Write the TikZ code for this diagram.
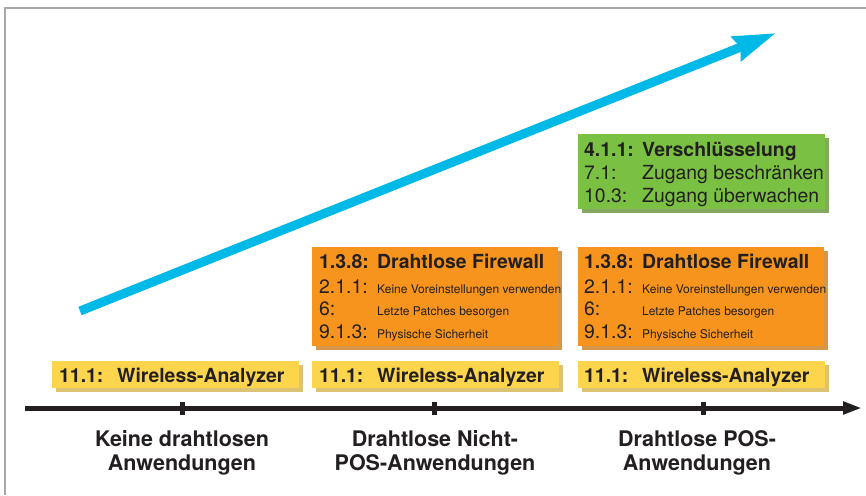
\documentclass[tikz,border=0pt]{standalone}
\usepackage{fontspec}
\setmainfont{TeX Gyre Heros}
\usetikzlibrary{arrows.meta,shadows}

\definecolor{ink}{HTML}{231F20}
\definecolor{frame}{HTML}{A8A8A8}
\definecolor{ylw}{HTML}{FDD54C}
\definecolor{ylwsh}{HTML}{DCC273}
\definecolor{org}{HTML}{F7941E}
\definecolor{orgsh}{HTML}{D6974A}
\definecolor{grn}{HTML}{7AC143}
\definecolor{grnsh}{HTML}{84A860}
\definecolor{sky}{HTML}{00B9E6}

\tikzset{
  x=1pt, y=1pt,
  box/.style={anchor=north west, inner sep=0, draw=none},
  ybox/.style={box, fill=ylw, minimum width=247, minimum height=27,
    general shadow={fill=ylwsh, shadow xshift=4pt, shadow yshift=-4pt}},
  obox/.style={box, fill=org, minimum width=246, minimum height=99,
    general shadow={fill=orgsh, shadow xshift=4pt, shadow yshift=-4pt}},
  gbox/.style={box, fill=grn, minimum width=247, minimum height=75,
    general shadow={fill=grnsh, shadow xshift=4pt, shadow yshift=-4pt}},
  lbl/.style={anchor=base west, inner sep=0, text=ink, font=\fontsize{19.4}{22}\selectfont},
  lblb/.style={lbl, font=\fontsize{19.4}{22}\selectfont\bfseries},
  lbls/.style={lbl, font=\fontsize{12}{14}\selectfont},
  phase/.style={align=center, inner sep=0, text=ink,
    font=\fontsize{21.5}{24}\selectfont\bfseries},
  tick/.style={line width=5pt, ink},
}

\begin{document}
\begin{tikzpicture}
\useasboundingbox (0,0) rectangle (866,-495);
\fill[white] (0,0) rectangle (866,-495);

% frame lines along the top and left edge
\draw[frame, line width=2pt] (5,-495) -- (5,-8) -- (866,-8);

% rising blue trend arrow
\coordinate (trendS) at (80,-311);
\coordinate (trendE) at (776,-33);
\draw[sky, line width=9pt, -{Stealth[length=42pt,width=25pt,inset=4pt]}] (trendS) -- (trendE);

% time axis with its three marks
\coordinate (axS) at (25,-408);
\coordinate (axE) at (862,-408);
\draw[ink, line width=5pt, -{Triangle[length=19pt,width=12pt]}] (axS) -- (axE);
\coordinate (t1) at (182,-408);
\coordinate (t2) at (434,-408);
\coordinate (t3) at (703,-408);
\foreach \t in {t1,t2,t3}
  \draw[tick] ([yshift=6.5pt]\t) -- ([yshift=-6.5pt]\t);

% phase captions below the axis (anchored at the baseline of the last line)
\node[phase, anchor=base] (p1) at (182,-470) {Keine drahtlosen\\Anwendungen};
\node[phase, anchor=base] (p2) at (435,-470) {Drahtlose Nicht-\\POS-Anwendungen};
\node[phase, anchor=base] (p3) at (697,-470) {Drahtlose POS-\\Anwendungen};

% wireless analyzer boxes
\node[ybox] (y1) at (52,-361) {};
\node[ybox] (y2) at (312,-361) {};
\node[ybox] (y3) at (578,-361) {};
\node[lblb] (y1n) at (59,-382) {11.1:};
\node[lblb] (y1t) at (117,-382) {Wireless-Analyzer};
\node[lblb] (y2n) at (319,-382) {11.1:};
\node[lblb] (y2t) at (377,-382) {Wireless-Analyzer};
\node[lblb] (y3n) at (584,-382) {11.1:};
\node[lblb] (y3t) at (642,-382) {Wireless-Analyzer};

% firewall boxes
\node[obox] (o2) at (312,-247) {};
\node[obox] (o3) at (578,-247) {};
\foreach \bx/\nx/\tx in {o2a/319/377, o3a/584/642}{
  \node[lblb] (\bx1n) at (\nx,-268) {1.3.8:};
  \node[lblb] (\bx1t) at (\tx,-268) {Drahtlose Firewall};
  \node[lbl]  (\bx2n) at (\nx,-293) {2.1.1:};
  \node[lbls] (\bx2t) at (\tx,-293) {Keine Voreinstellungen verwenden};
  \node[lbl]  (\bx3n) at (\nx,-315) {6:};
  \node[lbls] (\bx3t) at (\tx,-315) {Letzte Patches besorgen};
  \node[lbl]  (\bx4n) at (\nx,-338) {9.1.3:};
  \node[lbls] (\bx4t) at (\tx,-338) {Physische Sicherheit};
}

% encryption box
\node[gbox] (g3) at (578,-134) {};
\node[lblb] (g1n) at (584,-156) {4.1.1:};
\node[lblb] (g1t) at (642,-156) {Verschlüsselung};
\node[lbl]  (g2n) at (584,-179) {7.1:};
\node[lbl]  (g2t) at (642,-179) {Zugang beschränken};
\node[lbl]  (g3n) at (584,-202) {10.3:};
\node[lbl]  (g3t) at (642,-202) {Zugang überwachen};
\end{tikzpicture}
\end{document}
